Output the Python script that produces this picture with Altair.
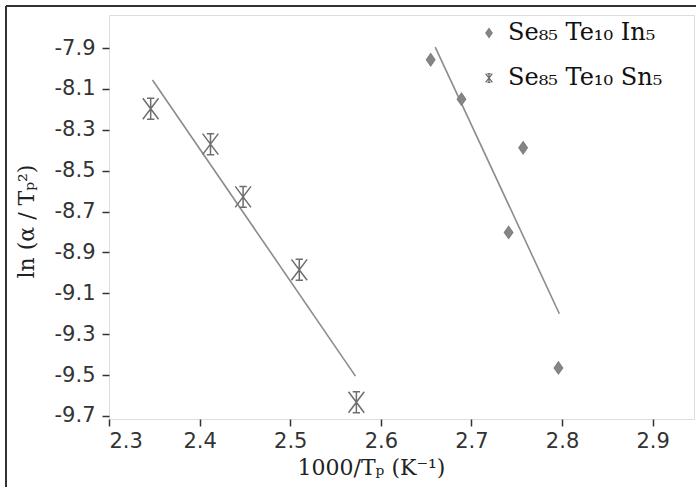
import altair as alt
import pandas as pd

# ---- data ----
series_in = "Se₈₅ Te₁₀ In₅"
series_sn = "Se₈₅ Te₁₀ Sn₅"

in_x = [2.655, 2.689, 2.757, 2.741, 2.796]
in_y = [-7.957, -8.150, -8.388, -8.802, -9.465]

sn_x = [2.346, 2.412, 2.448, 2.510, 2.573]
sn_y = [-8.197, -8.370, -8.628, -8.985, -9.633]

in_fit_x = [2.660, 2.797]
in_fit_y = [-7.895, -9.200]
sn_fit_x = [2.348, 2.572]
sn_fit_y = [-8.056, -9.505]

x_ticks = [2.3, 2.4, 2.5, 2.6, 2.7, 2.8, 2.9]
y_ticks = [-7.9, -8.1, -8.3, -8.5, -8.7, -8.9, -9.1, -9.3, -9.5, -9.7]

pts_in = pd.DataFrame({"x": in_x, "y": in_y, "series": [series_in] * len(in_x)})
pts_sn = pd.DataFrame({"x": sn_x, "y": sn_y, "series": [series_sn] * len(sn_x)})
fits = pd.DataFrame({
    "x": in_fit_x + sn_fit_x,
    "y": in_fit_y + sn_fit_y,
    "series": [series_in] * 2 + [series_sn] * 2,
})

DIAMOND = "M0,-1L0.7,0L0,1L-0.7,0Z"
ASTER = "M-0.75,-1L0.75,1M0.75,-1L-0.75,1M0,-1L0,1M-0.35,-1L0.35,-1M-0.35,1L0.35,1"

xs = alt.Scale(domain=[2.3, 2.9456], nice=False, zero=False)
ys = alt.Scale(domain=[-9.715, -7.738], nice=False, zero=False)

tick_font = "DejaVu Sans"
title_font = "DejaVu Serif"
label_expr = "replace(format(datum.value, '.1f'), '\u2212', '-')"

x_axis = alt.Axis(
    values=x_ticks, labelExpr=label_expr, title="1000/Tₚ (K⁻¹)",
    titleFont=title_font, titleFontSize=22, titleFontWeight="normal", titleColor="#222",
    titleX=262, titleY=55, titleBaseline="alphabetic", titleAlign="center",
    labelFont=tick_font, labelFontSize=21, labelColor="#333", labelPadding=4,
    tickSize=7, tickColor="#333", tickWidth=1.5, domain=False, grid=False,
)
y_axis = alt.Axis(
    values=y_ticks, labelExpr=label_expr, title="ln (α / Tₚ²)",
    titleFont=title_font, titleFontSize=22, titleFontWeight="normal", titleColor="#222",
    titleX=-76, titleY=206, titleBaseline="alphabetic", titleAlign="center", titleAngle=270,
    labelFont=tick_font, labelFontSize=21, labelColor="#333", labelPadding=7,
    tickSize=7, tickColor="#333", tickWidth=1.5, domain=False, grid=False,
)

legend = alt.Legend(
    title=None, orient="none", legendX=368, legendY=6,
    labelFont=title_font, labelFontSize=24, labelColor="#111", labelLimit=400,
    symbolSize=80, symbolStrokeWidth=1.3, rowPadding=21, padding=0, labelOffset=7,
)
domain = [series_in, series_sn]
shape_enc = alt.Shape("series:N", scale=alt.Scale(domain=domain, range=[DIAMOND, ASTER]), legend=legend)
stroke_enc = alt.Stroke("series:N", scale=alt.Scale(domain=domain, range=["#808080", "#6e6e6e"]), legend=legend)
fill_enc = alt.Fill("series:N", scale=alt.Scale(domain=domain, range=["#858585", "#858585"]), legend=legend)

lines = alt.Chart(fits).mark_line(color="#8c8c8c", strokeWidth=1.6).encode(
    x=alt.X("x:Q", scale=xs, axis=x_axis),
    y=alt.Y("y:Q", scale=ys, axis=y_axis),
    detail="series:N",
)

points_in = alt.Chart(pts_in).mark_point(
    strokeWidth=1.2, opacity=1, fillOpacity=1, size=150
).encode(x=alt.X("x:Q", scale=xs), y=alt.Y("y:Q", scale=ys),
         shape=shape_enc, stroke=stroke_enc, fill=fill_enc)

points_sn = alt.Chart(pts_sn).mark_point(
    strokeWidth=1.5, opacity=1, fillOpacity=1, size=440
).encode(x=alt.X("x:Q", scale=xs), y=alt.Y("y:Q", scale=ys),
         shape=shape_enc, stroke=stroke_enc, fill=fill_enc)

# outer figure frame (decorative)
frame_left = alt.Chart(pts_in).mark_rule(color="#333", strokeWidth=1.5).encode(
    x=alt.value(-103), y=alt.value(-9), y2=alt.value(480)
)
frame_top = alt.Chart(pts_in).mark_rule(color="#333", strokeWidth=1.5).encode(
    x=alt.value(-103), x2=alt.value(600), y=alt.value(-9)
)

chart = alt.layer(frame_left, frame_top, lines, points_in, points_sn).properties(
    width=585, height=404,
    autosize=alt.AutoSizeParams(type="none"),
    padding={"left": 109, "top": 15, "right": 2, "bottom": 68},
).configure_view(
    stroke="#333", strokeWidth=1.5
).configure(background="white")

chart.save("out.html", embed_options={"renderer": "svg", "actions": False})
